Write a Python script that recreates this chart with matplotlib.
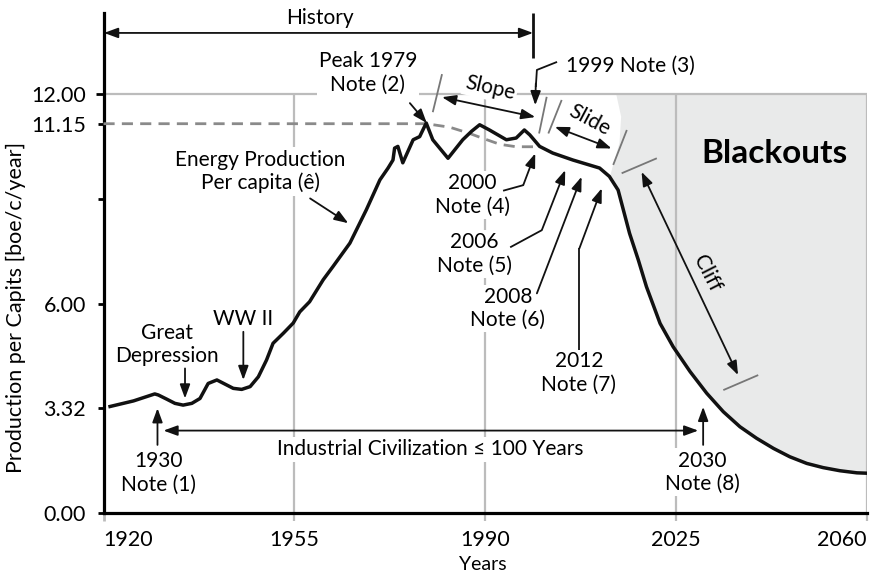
import matplotlib
matplotlib.use("Agg")
import matplotlib.pyplot as plt

plt.rcParams['font.family'] = ['Lato', 'DejaVu Sans']

# ---------------- data ----------------
years = [1921.2, 1925.5, 1929.4, 1930.05, 1931.6, 1933.1, 1934.6, 1936.2, 1937.7,
         1939.2, 1940.8, 1942.3, 1943.8, 1945.35, 1946.9, 1948.4, 1949.9, 1951.1,
         1953.0, 1954.8, 1956.0, 1957.8, 1960.3, 1962.1, 1965.2,
         1968.2, 1970.7, 1972.2, 1973.1, 1973.4, 1974.0, 1974.9, 1976.8, 1978.0,
         1979.2, 1980.4, 1983.2, 1985.9, 1987.5, 1989.0, 1990.8, 1993.9, 1995.7,
         1997.2, 1998.2, 2000.0, 2002.4, 2006.1, 2011.0, 2012.8, 2014.4, 2016.5,
         2018.1, 2019.6, 2022.1, 2024.5, 2027.6, 2030.65, 2033.7, 2036.75, 2039.8,
         2042.9, 2045.9, 2049.0, 2052.0, 2055.1, 2058.2, 2059.9]
values = [3.05, 3.21, 3.41, 3.38, 3.26, 3.14, 3.09, 3.14, 3.28,
          3.71, 3.81, 3.69, 3.57, 3.54, 3.62, 3.90, 4.38, 4.86,
          5.15, 5.44, 5.76, 6.05, 6.68, 7.06, 7.73,
          8.68, 9.54, 9.88, 10.11, 10.45, 10.50, 10.03, 10.69, 10.78,
          11.17, 10.69, 10.16, 10.69, 10.93, 11.12, 10.97, 10.69, 10.74,
          10.97, 10.83, 10.50, 10.31, 10.11, 9.88, 9.64, 9.25, 8.01,
          7.25, 6.48, 5.43, 4.76, 4.05, 3.43, 2.90, 2.47, 2.14,
          1.85, 1.61, 1.42, 1.30, 1.21, 1.15, 1.14]

# dashed trend after the 1979 peak
trend_years = [1920, 1979.2, 1983.5, 1987.0, 1989.6, 1992.7, 1995.7, 1998.8]
trend_vals = [11.15, 11.15, 11.05, 10.88, 10.73, 10.56, 10.49, 10.49]

# left edge of the "Blackouts" shading
edge_years = [2014.05, 2014.96, 2014.65, 2013.4, 2012.9]
edge_vals = [12.0, 11.35, 10.6, 9.92, 9.62]

x_ticks = [1920, 1955, 1990, 2025, 2060]
x_labels = ['1920', '1955', '1990', '2025', '2060']
y_ticks = [0, 3, 6, 9, 11.15, 12]
y_labels = ['0.00', '3.32', '6.00', '', '11.15', '12.00']
grid_years = [1955, 1990, 2025, 2060]

# ---------------- figure ----------------
fig = plt.figure(figsize=(8.75, 5.74), dpi=100)
ax = fig.add_axes([0.1183, 0.1063, 0.8722, 0.8716])
ax.set_xlim(1920, 2060)
ax.set_ylim(0, 14.33)

GRID = '#bcbcbc'
MARK = '#777777'
FS = 15

for s in ['top', 'right']:
    ax.spines[s].set_visible(False)
for s in ['left', 'bottom']:
    ax.spines[s].set_linewidth(2.3)
    ax.spines[s].set_color('black')

# shading
fill_x = edge_years + [y for y in years if y > 2012.9] + [2060]
fill_y = edge_vals + [v for y, v in zip(years, values) if y > 2012.9] + [12.0]
ax.fill(fill_x, fill_y, color='#e9eaea', lw=0, zorder=0.5)

# grid
ax.vlines(grid_years, 0, 12, color=GRID, lw=1.6, zorder=1)
ax.hlines(12, 1920, 2060, color=GRID, lw=1.6, zorder=1)

# dashed trend
ax.plot(trend_years, trend_vals, color='#8a8a8a', lw=2.0, ls=(0, (4, 2.6)), zorder=3,
        clip_on=False)

# main curve
ax.plot(years, values, color='#111111', lw=2.5, zorder=4, solid_joinstyle='round')

# ticks
ax.set_xticks(x_ticks)
ax.set_xticklabels(x_labels, fontsize=15.5)
ax.set_yticks(y_ticks)
ax.set_yticklabels(y_labels, fontsize=15.5)
ax.tick_params(axis='x', direction='out', length=6, width=1.6, color=GRID, pad=6)
ax.tick_params(axis='y', direction='out', length=4.5, width=2.0, color='black', pad=8)
xt = ax.xaxis.get_major_ticks()
xt[0].tick1line.set_color('black')
xt[0].tick1line.set_markeredgewidth(2.0)
yt = ax.yaxis.get_major_ticks()
yt[4].tick1line.set_color('#8a8a8a')
yt[5].tick1line.set_color(GRID)
yt[5].tick1line.set_markersize(6)
xl = ax.get_xticklabels()
xl[0].set_ha('left')
xl[-1].set_ha('right')

fig.text(16 / 875, 1 - 307 / 574, 'Production per Capits [boe/c/year]', rotation=90,
         ha='center', va='center', fontsize=15.5)
fig.text(483 / 875, 1 - 565 / 574, 'Years', ha='center', va='center', fontsize=14)

WB = dict(facecolor='white', edgecolor='none', pad=1.5)


def txt(x, y, s, rot=0, box=True, **kw):
    kw.setdefault('fontsize', FS)
    ax.text(x, y, s, rotation=rot, ha='center', va='center', zorder=2,
            bbox=WB if box else None, linespacing=1.2,
            rotation_mode='anchor', clip_on=False, **kw)


def arrow(p0, p1, both=False):
    style = '<|-|>' if both else '-|>'
    ax.annotate('', xy=p1, xytext=p0, zorder=5, annotation_clip=False,
                arrowprops=dict(arrowstyle=style + ',head_length=0.6,head_width=0.22',
                                color='#111111', lw=1.3, mutation_scale=14,
                                shrinkA=0, shrinkB=0))


def seg(xs, ys, color='#111111', lw=1.3):
    ax.plot(xs, ys, color=color, lw=lw, zorder=5, clip_on=False,
            solid_capstyle='butt')


# History
txt(1959.7, 14.18, 'History', box=False)
arrow((1920.1, 13.75), (1998.8, 13.75), both=True)
seg([1998.8, 1998.8], [14.33, 13.03], lw=2.0)

# Peak 1979
txt(1968.5, 12.60, 'Peak 1979\nNote (2)')
arrow((1976.2, 11.74), (1979.3, 11.17))

# Slope / Slide / Cliff markers
seg([1982.1, 1980.4], [12.57, 11.48], color=MARK)
arrow((1982.1, 11.91), (1999.2, 11.34), both=True)
txt(1990.9, 12.17, 'Slope', rot=-13)
seg([2001.3, 1999.9], [11.92, 10.87], color=MARK)
seg([2004.05, 2001.6], [11.83, 10.87], color=MARK)
arrow((2002.8, 11.06), (2013.2, 10.44), both=True)
txt(2009.2, 11.25, 'Slide', rot=-28, box=False)
seg([2016.0, 2013.5], [10.97, 9.97], color=MARK)
seg([2015.05, 2021.5], [9.73, 10.16], color=MARK)
arrow((2018.7, 9.77), (2036.4, 3.95), both=True)
seg([2033.7, 2040.1], [3.52, 3.95], color=MARK)
txt(2030.65, 6.86, 'Cliff', rot=-63, box=False)

txt(2043.0, 10.31, 'Blackouts', box=False, fontsize=24, fontweight='bold')

# 1999 note
txt(2016.6, 12.80, '1999 Note (3)', box=False)
seg([2003.2, 1999.5, 1999.3], [12.92, 12.69, 12.2])
arrow((1999.3, 12.3), (1999.2, 11.68))

# 2000 note
txt(1987.7, 9.11, '2000\nNote (4)')
seg([1993.3, 1997.0], [9.23, 9.39])
arrow((1997.0, 9.39), (1999.2, 10.30))

# 2006 note
txt(1988.1, 7.42, '2006\nNote (5)')
seg([1994.6, 2000.4], [7.61, 8.10])
arrow((2000.4, 8.10), (2004.7, 9.82))

# 2008 note
txt(1994.2, 5.85, '2008\nNote (6)')
arrow((1999.5, 6.29), (2007.7, 9.63))

# 2012 note
txt(2007.2, 4.01, '2012\nNote (7)')
seg([2007.3, 2007.3], [4.67, 7.58])
arrow((2007.3, 7.58), (2011.4, 9.30))

# Energy production label
txt(1948.8, 9.78, 'Energy Production\nPer capita (ê)')
arrow((1957.9, 9.01), (1964.9, 8.30))

# Great Depression / WW II
txt(1931.6, 4.83, 'Great\nDepression', box=False)
arrow((1934.95, 4.14), (1934.95, 3.28))
txt(1945.6, 5.56, 'WW II', box=False)
arrow((1945.65, 5.19), (1945.65, 3.81))

# 1930 / Industrial civilization / 2030
txt(1930.0, 1.15, '1930\nNote (1)', box=False)
arrow((1929.9, 1.95), (1929.9, 3.00))
arrow((1931.0, 2.36), (2029.1, 2.36), both=True)
txt(1979.9, 1.82, 'Industrial Civilization ≤ 100 Years')
txt(2029.8, 1.17, '2030\nNote (8)')
arrow((2030.0, 1.95), (2030.0, 3.04))

fig.savefig('out.png', dpi=100)
